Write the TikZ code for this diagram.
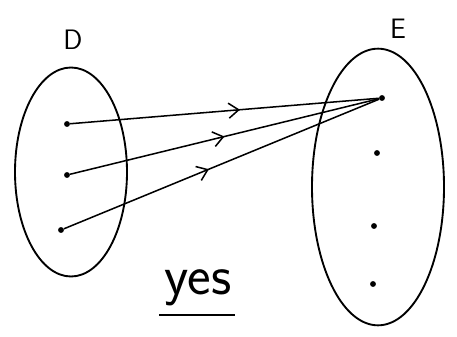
\documentclass[tikz,border=0pt]{standalone}
\usepackage{tikz}
\usetikzlibrary{arrows.meta, positioning, shapes.geometric, decorations.markings}

\begin{document}
\begin{tikzpicture}[
  x=0.03cm, y=-0.03cm,
  setbox/.style={ellipse, draw, line width=1.6pt, inner sep=0pt},
  pt/.style={circle, fill, inner sep=0pt, minimum size=5pt},
  setlabel/.style={font=\fontsize{24}{26}\selectfont\sffamily},
  maparrow/.style={line width=1.3pt, postaction={decorate},
    decoration={markings, mark=at position #1 with {\arrow{Straight Barb[length=3mm, width=4.5mm, line width=1.3pt]}}}}
]
  \useasboundingbox (0,0) rectangle (457,336);

  \node[setbox, minimum width=3.36cm, minimum height=6.27cm] (setD) at (71,172) {};
  \node[setbox, minimum width=3.96cm, minimum height=8.3cm] (setE) at (378,187) {};
  \node[setlabel] (labD) at (73,40) {D};
  \node[setlabel] (labE) at (398,29) {E};

  \node[pt] (d1) at (67,124) {};
  \node[pt] (d2) at (67,175) {};
  \node[pt] (d3) at (61,230) {};
  \node[pt] (e1) at (382,98) {};
  \node[pt] (e2) at (377,153) {};
  \node[pt] (e3) at (374,226) {};
  \node[pt] (e4) at (373,284) {};

  \draw[maparrow=0.55] (d1) -- (e1);
  \draw[maparrow=0.5] (d2) -- (e1);
  \draw[maparrow=0.46] (d3) -- (e1);

  \node[font=\fontsize{48}{50}\selectfont\sffamily, inner sep=0pt] (yes) at (198,288) {yes};
  \draw[line width=1.6pt] ([xshift=-0.15cm, yshift=-0.25cm]yes.south west) -- ([xshift=0.1cm, yshift=-0.25cm]yes.south east);
\end{tikzpicture}
\end{document}
